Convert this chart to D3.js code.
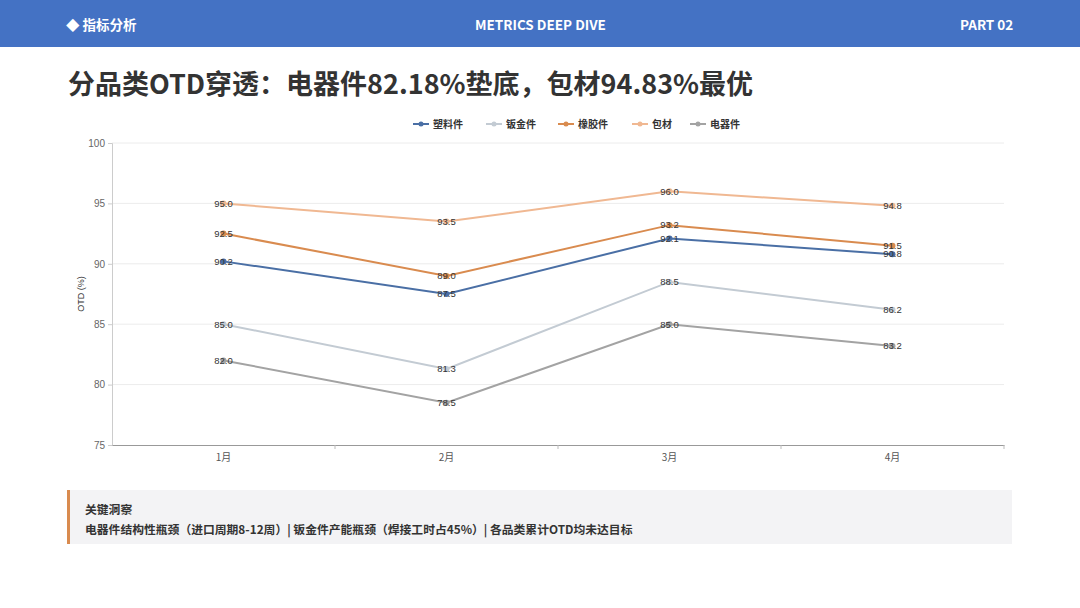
<!DOCTYPE html>
<html>
<head>
<meta charset="utf-8">
<script src="https://cdn.jsdelivr.net/npm/d3@7"></script>
<style>
  body { margin: 0; width: 1080px; height: 608px; background: #fff; overflow: hidden;
         font-family: "Noto Sans CJK SC", "Noto Sans", sans-serif; }
  .header { position: absolute; left: 0; top: 0; width: 1080px; height: 47px; background: #4472c4;
            color: #fff; font-size: 13.5px; font-weight: bold; }
  .header span { position: absolute; top: 14px; }
  .title { position: absolute; left: 68px; top: 63px; font-size: 27px; font-weight: bold; color: #333; }
  .insight { position: absolute; left: 67px; top: 490px; width: 945px; height: 54px; background: #f3f3f5;
             border-left: 3px solid #d98b4f; box-sizing: border-box; padding: 9px 0 0 15px; color: #333;
             font-size: 11.8px; font-weight: bold; line-height: 20px; }
  svg { position: absolute; left: 0; top: 0; }
</style>
</head>
<body>
<div class="header">
  <span style="left:66px">◆ 指标分析</span>
  <span style="left:475px">METRICS DEEP DIVE</span>
  <span style="left:960px">PART 02</span>
</div>
<div class="title">分品类OTD穿透：电器件82.18%垫底，包材94.83%最优</div>
<svg id="chart" width="1080" height="608"></svg>
<div class="insight">关键洞察<br>电器件结构性瓶颈（进口周期8-12周）| 钣金件产能瓶颈（焊接工时占45%）| 各品类累计OTD均未达目标</div>
<script>
var months = ["1月", "2月", "3月", "4月"];
var seriesNames = ["塑料件", "钣金件", "橡胶件", "包材", "电器件"];
var plastic = [90.2, 87.5, 92.1, 90.8];
var sheetMetal = [85.0, 81.3, 88.5, 86.2];
var rubber = [92.5, 89.0, 93.2, 91.5];
var packaging = [95.0, 93.5, 96.0, 94.8];
var electrical = [82.0, 78.5, 85.0, 83.2];
var yTicks = [75, 80, 85, 90, 95, 100];
var colors = ["#4a6fa5", "#c3cbd3", "#d98b4f", "#f0b892", "#a3a3a3"];

var series = [plastic, sheetMetal, rubber, packaging, electrical];

var margin = {top: 143, right: 76, bottom: 163, left: 112};
var width = 1080 - margin.left - margin.right,
    height = 608 - margin.top - margin.bottom;

var svg = d3.select("#chart");
var g = svg.append("g")
    .attr("transform", "translate(" + margin.left + "," + margin.top + ")");

var x = d3.scaleBand().domain(months).range([0, width]);
var y = d3.scaleLinear().domain([75, 100]).range([height, 0]);

// grid
g.selectAll(".grid").data(yTicks.slice(1)).enter().append("line")
    .attr("x1", 0).attr("x2", width)
    .attr("y1", function(d) { return y(d); }).attr("y2", function(d) { return y(d); })
    .attr("stroke", "#ececec").attr("stroke-width", 1);

// axes
var yAxis = g.append("g").call(d3.axisLeft(y).tickValues(yTicks).tickSize(4).tickPadding(3));
yAxis.select(".domain").attr("stroke", "#ccc");
yAxis.selectAll(".tick line").attr("stroke", "#ccc");
yAxis.selectAll("text").attr("fill", "#666").style("font-size", "10px").style("font-family", "Liberation Sans, sans-serif");

var xAxis = g.append("g").attr("transform", "translate(0," + height + ")")
    .call(d3.axisBottom(x).tickSize(0).tickPadding(9));
xAxis.select(".domain").attr("stroke", "#999");
xAxis.selectAll("text").attr("fill", "#555").style("font-size", "10px").style("font-family", "Noto Sans CJK SC, sans-serif");
// boundary ticks between bands
g.selectAll(".btick").data(months).enter().append("line")
    .attr("x1", function(d) { return x(d) + x.bandwidth(); })
    .attr("x2", function(d) { return x(d) + x.bandwidth(); })
    .attr("y1", height).attr("y2", height + 4)
    .attr("stroke", "#bbb");

g.append("text")
    .attr("transform", "translate(-28," + y(87.5) + ") rotate(-90)")
    .attr("text-anchor", "middle")
    .attr("fill", "#333")
    .style("font-size", "9px")
    .style("font-family", "Liberation Sans, sans-serif")
    .text("OTD (%)");

var line = d3.line()
    .x(function(d, i) { return x(months[i]) + x.bandwidth() / 2; })
    .y(function(d) { return y(d); });

series.forEach(function(vals, si) {
    g.append("path").datum(vals)
        .attr("fill", "none")
        .attr("stroke", colors[si])
        .attr("stroke-width", 2)
        .attr("d", line);
    g.selectAll(".pt" + si).data(vals).enter().append("circle")
        .attr("cx", function(d, i) { return x(months[i]) + x.bandwidth() / 2; })
        .attr("cy", function(d) { return y(d); })
        .attr("r", 3)
        .attr("fill", colors[si]);
    g.selectAll(".lb" + si).data(vals).enter().append("text")
        .attr("x", function(d, i) { return x(months[i]) + x.bandwidth() / 2; })
        .attr("y", function(d) { return y(d); })
        .attr("dy", "0.35em")
        .attr("text-anchor", "middle")
        .attr("fill", "#333")
        .style("font-size", "9.5px")
        .style("font-family", "Liberation Sans, sans-serif")
        .text(function(d) { return d.toFixed(1); });
});

// legend
var legendX = [413, 486, 558, 632, 690];
var legend = svg.append("g").attr("transform", "translate(0,124)");
seriesNames.forEach(function(name, i) {
    var lg = legend.append("g").attr("transform", "translate(" + legendX[i] + ",0)");
    lg.append("line").attr("x1", 0).attr("x2", 16).attr("y1", 0).attr("y2", 0)
        .attr("stroke", colors[i]).attr("stroke-width", 2);
    lg.append("circle").attr("cx", 8).attr("cy", 0).attr("r", 2.5).attr("fill", colors[i]);
    lg.append("text").attr("x", 20).attr("dy", "0.35em")
        .attr("fill", "#333").style("font-size", "10px").style("font-weight", "bold")
        .style("font-family", "Noto Sans CJK SC, sans-serif")
        .text(name);
});
</script>
</body>
</html>
